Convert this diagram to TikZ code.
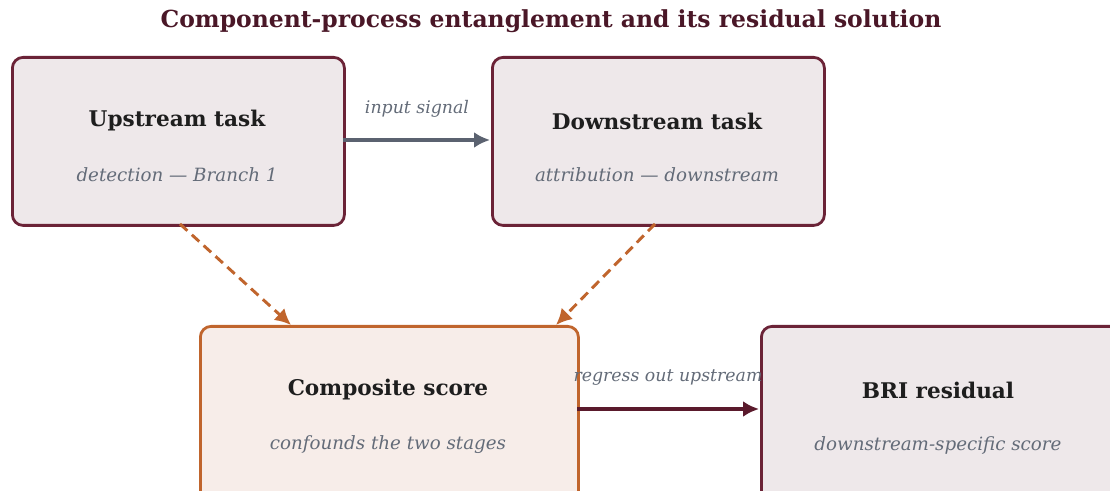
\documentclass[tikz,border=0pt]{standalone}
\usepackage{fontspec}
\setmainfont{DejaVu Serif}
\usetikzlibrary{arrows.meta}
\definecolor{titlecol}{HTML}{4A1727}
\definecolor{boxborder}{HTML}{6B2337}
\definecolor{boxfill}{HTML}{EEE8EA}
\definecolor{orangeborder}{HTML}{C0652D}
\definecolor{orangefill}{HTML}{F7EDE9}
\definecolor{subgray}{HTML}{636B78}
\definecolor{arrowgray}{HTML}{5B6270}
\definecolor{darkarrow}{HTML}{5A1A2C}
\definecolor{textdark}{HTML}{1E1E1E}
\tikzset{
  taskbox/.style={draw=boxborder, fill=boxfill, line width=2.1pt, rounded corners=8pt},
  compbox/.style={draw=orangeborder, fill=orangefill, line width=2.1pt, rounded corners=8pt},
  boxtitle/.style={font=\fontsize{16.2}{19}\selectfont\bfseries, text=textdark},
  boxsub/.style={font=\fontsize{13.7}{16}\selectfont\itshape, text=subgray},
  edgelabel/.style={font=\fontsize{13}{15}\selectfont\itshape, text=subgray},
  grayarrow/.style={draw=arrowgray, line width=2.4pt, -{Latex[length=12pt,width=12pt]}},
  dasharrow/.style={draw=orangeborder, line width=2.2pt, dash pattern=on 7.5pt off 4.5pt, -{Latex[length=12pt,width=12pt]}},
  darkarrowstyle/.style={draw=darkarrow, line width=2.4pt, -{Latex[length=12pt,width=12pt]}},
}
\begin{document}
\begin{tikzpicture}[x=0.75pt,y=-0.75pt]
\useasboundingbox (0,0) rectangle (1110,491);
\begin{scope}
\clip (0,0) rectangle (1110,491);
\node[taskbox, minimum width=332*0.75pt, minimum height=168*0.75pt, anchor=north west] (up) at (11,56) {};
\node[taskbox, minimum width=332*0.75pt, minimum height=168*0.75pt, anchor=north west] (down) at (491,56) {};
\node[compbox, minimum width=378*0.75pt, minimum height=180*0.75pt, anchor=north west] (comp) at (199,325) {};
\node[taskbox, minimum width=360*0.75pt, minimum height=180*0.75pt, anchor=north west] (bri) at (760,325) {};
\end{scope}
\node[font=\fontsize{17.6}{20}\selectfont\bfseries, text=titlecol] (title) at (551,21) {Component-process entanglement and its residual solution};

\node[boxtitle] (upt) at (177,121) {Upstream task};
\node[boxsub] (ups) at (177,175) {detection — Branch 1};
\node[boxtitle] (downt) at (657,121) {Downstream task};
\node[boxsub] (downs) at (657,175) {attribution — downstream};
\node[boxtitle] (compt) at (388,390) {Composite score};
\node[boxsub] (comps) at (388,445) {confounds the two stages};
\node[boxtitle] (brit) at (938,390) {BRI residual};
\node[boxsub] (bris) at (938,445) {downstream-specific score};

\coordinate (upR) at (343,140);
\coordinate (downL) at (490,140);
\draw[grayarrow] (upR) -- (downL);
\node[edgelabel] (lab1) at (417,109) {input signal};

\coordinate (upB) at (180,224);
\coordinate (compA) at (291,325);
\draw[dasharrow] (upB) -- (compA);
\coordinate (downB) at (655,224);
\coordinate (compB) at (556,325);
\draw[dasharrow] (downB) -- (compB);

\coordinate (compR) at (577,409);
\coordinate (briL) at (759,409);
\draw[darkarrowstyle] (compR) -- (briL);
\node[edgelabel] (lab2) at (668,378) {regress out upstream};
\end{tikzpicture}
\end{document}
